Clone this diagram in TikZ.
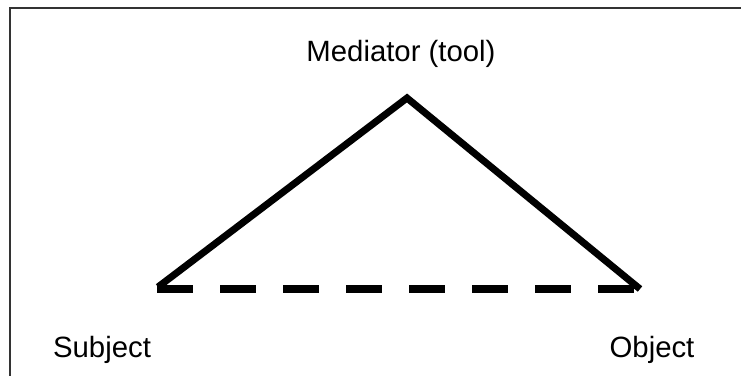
\documentclass[tikz,border=0pt]{standalone}
\usepackage{fontspec}
\setmainfont{Liberation Sans}
\usepackage{tikz}
\usetikzlibrary{positioning}

\begin{document}
\begin{tikzpicture}[x=0.75pt, y=-0.75pt,
    lato/.style={line width=5.25pt},
    tratto/.style={line width=6pt, dash pattern=on 27pt off 20.25pt},
    etichetta/.style={anchor=base, inner sep=0pt, font=\fontsize{22}{26}\selectfont}]
    \useasboundingbox (0,0) rectangle (741,376);
    %cornice
    \draw[line width=1.5pt, gray!40!black] (741,8) -| (10,376);
    %vertici del triangolo
    \coordinate (soggetto) at (158,287);
    \coordinate (mediatore) at (407,98);
    \coordinate (oggetto) at (640,289);
    %disegno lati
    \draw[lato] (soggetto) -- (mediatore) -- (oggetto);
    \draw[tratto] (157,289) -- (640,289);
    %label
    \node[etichetta] (med) at (401,61) {Mediator (tool)};
    \node[etichetta] (sub) at (102,357) {Subject};
    \node[etichetta] (obj) at (652,357) {Object};
\end{tikzpicture}
\end{document}
